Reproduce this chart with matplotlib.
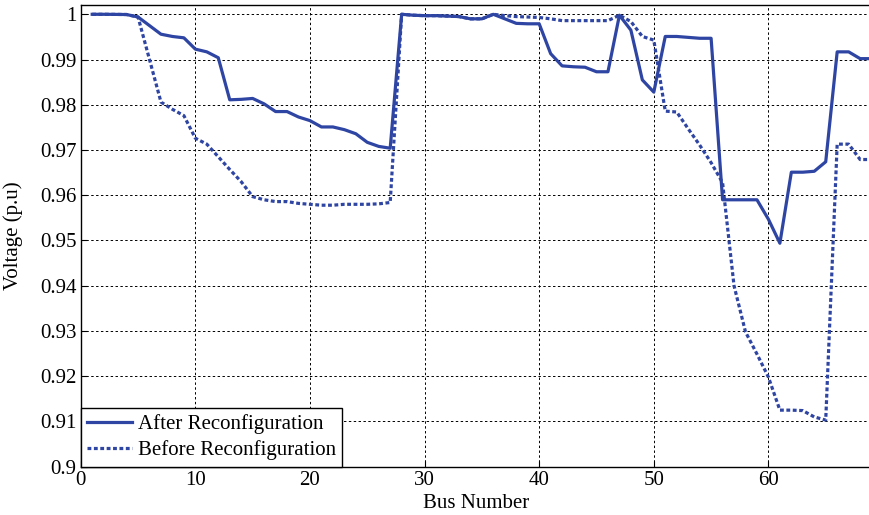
import matplotlib
matplotlib.use("Agg")
import matplotlib.pyplot as plt
import numpy as np

plt.rcParams["font.family"] = ["Liberation Serif", "DejaVu Serif"]

# Bus voltage profile of the 69-bus feeder (p.u.)
bus = np.arange(1, 70)

v_after = [
    1.0, 1.0, 0.99998, 0.99995, 0.9994, 0.9975, 0.9956, 0.9951, 0.9948, 0.9923,
    0.9917, 0.9904, 0.9811, 0.9812, 0.9814, 0.9802, 0.9785, 0.9785, 0.9773, 0.9765,
    0.9751, 0.9751, 0.9745, 0.9736, 0.9717, 0.9708, 0.9704, 1.0, 0.9998, 0.9997,
    0.9997, 0.9996, 0.9995, 0.9990, 0.9990, 1.0, 0.9990, 0.9980, 0.9979, 0.9979,
    0.9913, 0.9886, 0.9884, 0.9883, 0.9873, 0.9873, 0.9998, 0.9965, 0.9855, 0.9828,
    0.9951, 0.9951, 0.9949, 0.9947, 0.9947, 0.9590, 0.9590, 0.9590, 0.9590, 0.9547,
    0.9494, 0.9651, 0.9651, 0.9653, 0.9674, 0.9917, 0.9917, 0.9902, 0.9902,
]

v_before = [
    1.0, 1.0, 0.99998, 0.99995, 0.9994, 0.9900, 0.9806, 0.9790, 0.9776, 0.9726,
    0.9713, 0.9685, 0.9657, 0.9630, 0.9597, 0.9590, 0.9586, 0.9586, 0.9582, 0.9580,
    0.9578, 0.9578, 0.9580, 0.9580, 0.9580, 0.9581, 0.9584, 1.0, 0.9998, 0.9997,
    0.9997, 0.9996, 0.9995, 0.9990, 0.9990, 1.0, 0.9997, 0.9995, 0.9994, 0.9993,
    0.9990, 0.9986, 0.9986, 0.9986, 0.9986, 0.9986, 0.9998, 0.9984, 0.9951, 0.9943,
    0.9786, 0.9784, 0.9747, 0.9711, 0.9672, 0.9628, 0.9400, 0.9298, 0.9249, 0.9198,
    0.9125, 0.9125, 0.9124, 0.9110, 0.9103, 0.9713, 0.9713, 0.9679, 0.9679,
]

x_ticks = [0, 10, 20, 30, 40, 50, 60]
y_ticks = [0.9, 0.91, 0.92, 0.93, 0.94, 0.95, 0.96, 0.97, 0.98, 0.99, 1.0]
y_ticklabels = ["0.9", "0.91", "0.92", "0.93", "0.94", "0.95", "0.96", "0.97",
                "0.98", "0.99", "1"]

line_color = "#2f45a3"
fs = 15

fig = plt.figure(figsize=(8.7, 5.15), dpi=100)
ax = fig.add_axes([0.0928, 0.0938, 0.909, 0.896])

ax.plot(bus, v_after, color=line_color, lw=2.3, label="After Reconfiguration")
ax.plot(bus, v_before, color=line_color, lw=2.3, linestyle=(0, (1.2, 0.8)),
        label="Before Reconfiguration")

ax.set_xlim(0, 69)
ax.set_ylim(0.9, 1.002)
ax.set_xticks(x_ticks)
ax.set_yticks(y_ticks)
ax.set_yticklabels(y_ticklabels)
ax.tick_params(direction="in", length=4, width=0.8, labelsize=fs)
ax.tick_params(axis="x", pad=3)
ax.tick_params(axis="y", pad=3)
ax.grid(True, color="black", linestyle=(0, (2.5, 2.5)), linewidth=0.7)
for side in ax.spines.values():
    side.set_linewidth(1.0)

ax.set_xlabel("Bus Number", fontsize=fs, va="center")
ax.xaxis.set_label_coords(0.5, -0.079)
ax.set_ylabel("Voltage (p.u)", fontsize=fs, va="center")
ax.yaxis.set_label_coords(-0.086, 0.5)

leg = ax.legend(loc="lower left", fontsize=fs, handlelength=2.15, borderaxespad=0,
                fancybox=False, framealpha=1, edgecolor="black",
                borderpad=0.3, labelspacing=0.3, handletextpad=0.3)
leg.get_frame().set_linewidth(1.0)

fig.savefig("out.png", dpi=100)
